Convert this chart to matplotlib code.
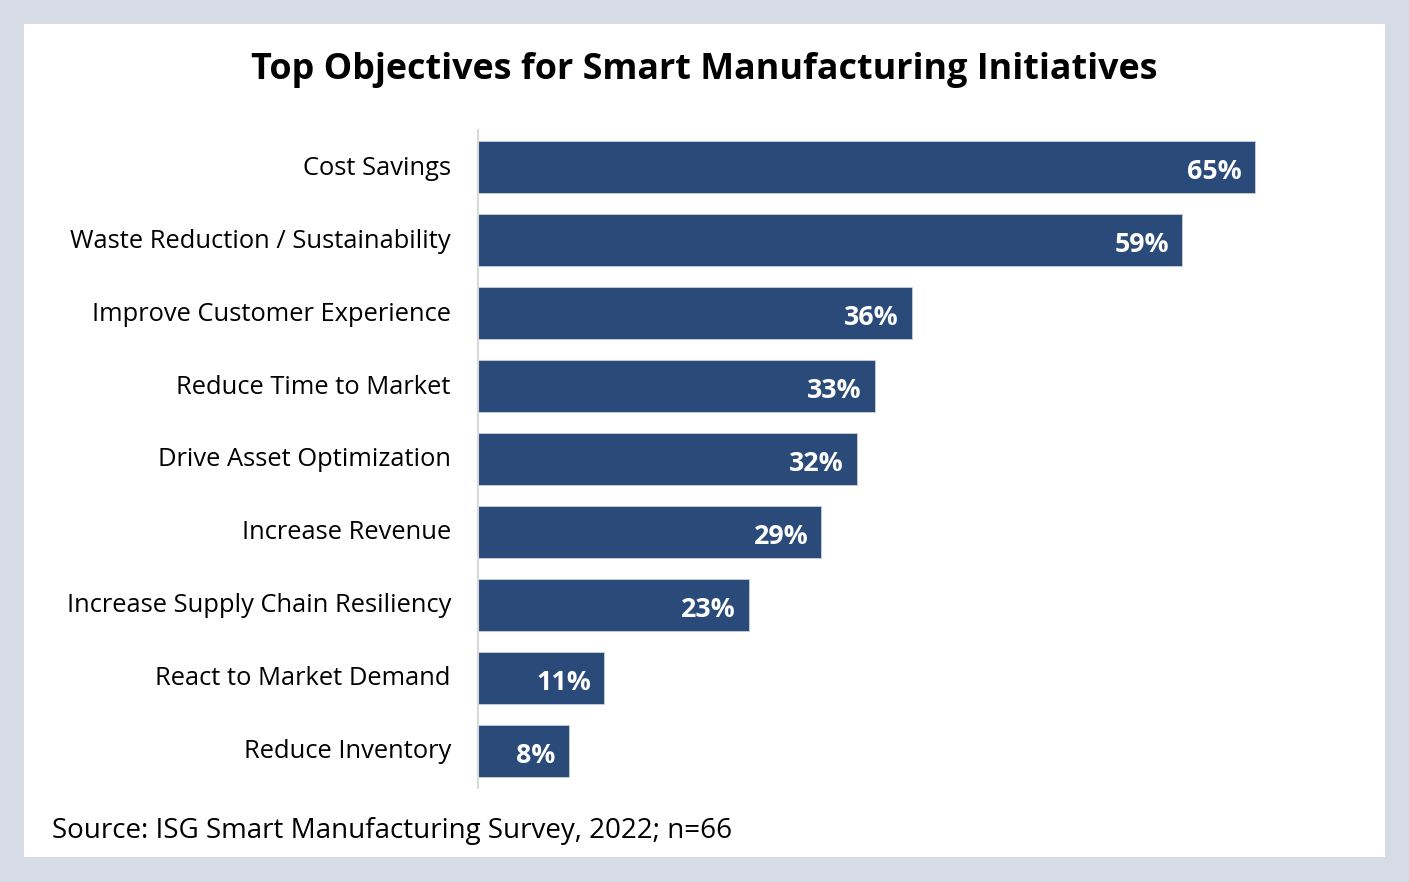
import matplotlib
matplotlib.use("Agg")
import matplotlib.pyplot as plt
from matplotlib.patches import Rectangle
from matplotlib.transforms import ScaledTranslation

categories = ["Cost Savings", "Waste Reduction / Sustainability", "Improve Customer Experience",
              "Reduce Time to Market", "Drive Asset Optimization", "Increase Revenue",
              "Increase Supply Chain Resiliency", "React to Market Demand", "Reduce Inventory"]
values = [65.2, 59.1, 36.4, 33.3, 31.8, 28.8, 22.7, 10.6, 7.6]
value_labels = ["65%", "59%", "36%", "33%", "32%", "29%", "23%", "11%", "8%"]

plt.rcParams['font.family'] = ['Open Sans', 'DejaVu Sans']

W, H = 1409, 882
fig = plt.figure(figsize=(W / 100, H / 100), dpi=100)
fig.patch.set_facecolor('#d6dce5')
fig.add_artist(Rectangle((24 / W, 1 - 857 / H), (1385 - 24) / W, (857 - 24) / H,
                         transform=fig.transFigure, facecolor='white', edgecolor='none', zorder=0))

ax_left = 478 / W
ax_top = 130
ax_bot = 788
xmax = 70
px_per = 11.92
ax = fig.add_axes([ax_left, 1 - ax_bot / H, xmax * px_per / W, (ax_bot - ax_top) / H])
ax.set_facecolor('none')

ypos = list(range(len(categories)))
ax.barh(ypos, values, height=0.70, color='#2a4a7a', edgecolor='#c8d0dc', linewidth=0.6, zorder=2)
ax.set_xlim(0, xmax)
ax.set_ylim(len(categories) - 0.5 + 0.007, -0.507)

for s in ['top', 'right', 'bottom']:
    ax.spines[s].set_visible(False)
ax.spines['left'].set_color('#d9d9d9')
ax.spines['left'].set_linewidth(1.5)
ax.set_xticks([])
ax.set_yticks(ypos)
ax.set_yticklabels(categories, fontsize=18.4, color='black')
ax.tick_params(axis='y', length=0, pad=19.5)
shift = ScaledTranslation(0, 2 / 100, fig.dpi_scale_trans)
for lbl in ax.get_yticklabels():
    lbl.set_transform(lbl.get_transform() + shift)

for y, v, lab in zip(ypos, values, value_labels):
    ax.annotate(lab, xy=(v, y), xytext=(-9.4, -3.6), textcoords='offset points',
                ha='right', va='center', color='white', fontsize=19.3, fontweight='bold')

fig.text(704 / W, 1 - 70 / H, "Top Objectives for Smart Manufacturing Initiatives",
         ha='center', va='center', fontsize=25.8, fontweight='bold', color='black')
fig.text(52 / W, 1 - 831 / H, "Source: ISG Smart Manufacturing Survey, 2022; n=66",
         ha='left', va='center', fontsize=20, color='black')

fig.savefig("out.png", dpi=100, facecolor=fig.get_facecolor())
